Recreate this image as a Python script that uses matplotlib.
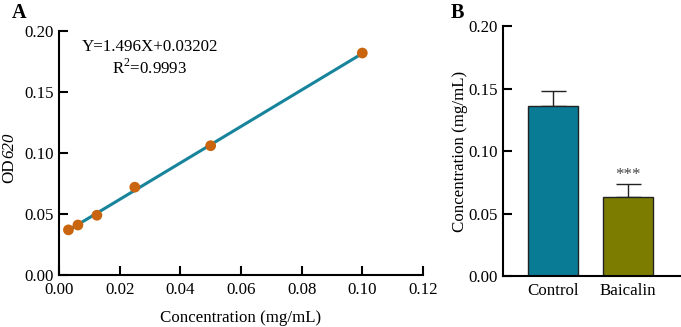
import numpy as np
import matplotlib.pyplot as plt

plt.rcParams['font.family'] = ['Liberation Serif', 'DejaVu Serif']
plt.rcParams['mathtext.fontset'] = 'custom'
plt.rcParams['mathtext.rm'] = 'Liberation Serif'

# standard curve data (panel A)
conc = [0.003125, 0.00625, 0.0125, 0.025, 0.05, 0.1]
od620 = [0.037, 0.041, 0.049, 0.072, 0.106, 0.182]
slope, intercept = 1.496, 0.03202

# bar data (panel B)
groups = ['Control', 'Baicalin']
means = [0.136, 0.0634]
errs = [0.012, 0.010]
bar_colors = ['#0a7b95', '#7c7c00']

line_color = '#17849c'
dot_color = '#c8650e'
fs = 12.2

fig = plt.figure(figsize=(6.81, 3.27), dpi=100)
axA = fig.add_axes([0.0866, 0.159, 0.5345, 0.746])
axB = fig.add_axes([0.7386, 0.156, 0.26, 0.764])

for ax in (axA, axB):
    ax.spines['top'].set_visible(False)
    ax.spines['right'].set_visible(False)
    ax.spines['left'].set_linewidth(1.5)
    ax.spines['bottom'].set_linewidth(1.5)
    ax.tick_params(direction='in', length=6.5, width=1.5, labelsize=fs)
    ax.tick_params(axis='y', pad=4)
    ax.tick_params(axis='x', pad=5)

# panel A
xfit = np.array([conc[0], conc[-1]])
axA.plot(xfit, slope * xfit + intercept, color=line_color, lw=2.2, zorder=2)
axA.scatter(conc, od620, s=60, color=dot_color, zorder=3, edgecolors='none')
axA.set_xlim(0, 0.12)
axA.set_ylim(0, 0.20)
axA.set_xticks(np.arange(0, 0.121, 0.02))
axA.set_yticks(np.arange(0, 0.201, 0.05))
axA.xaxis.set_major_formatter(plt.FormatStrFormatter('%.2f'))
axA.yaxis.set_major_formatter(plt.FormatStrFormatter('%.2f'))
axA.set_xlabel('Concentration (mg/mL)', fontsize=fs, labelpad=9)
axA.text(0.030, 0.187, 'Y=1.496X+0.03202', ha='center', va='center', fontsize=fs)
axA.text(0.030, 0.170, 'R$^2$=0.9993', ha='center', va='center', fontsize=fs)

# y label "OD620" with italic digits
t_od = fig.text(9 / 681, 1 - 183 / 327, 'OD', rotation=90, ha='center', va='bottom',
                fontsize=fs)
fig.texts.append(plt.matplotlib.text.Annotation(
    '620', xy=(0.5, 1.0), xycoords=t_od, rotation=90, ha='center', va='bottom',
    fontsize=fs, style='italic'))
fig.texts[-1].set_figure(fig)

# panel B
x = np.arange(len(groups))
axB.bar(x, means, width=0.667, color=bar_colors, edgecolor='#222222', linewidth=1, zorder=2)
axB.errorbar(x, means, yerr=[[0, 0], errs], fmt='none', ecolor='#222222',
             elinewidth=1, capsize=9, capthick=1, zorder=1)
axB.text(x[1], means[1] + errs[1] + 0.0075, '***', ha='center', va='center',
         fontsize=fs, color='#444444')
axB.set_xlim(-0.667, 1.69)
axB.set_ylim(0, 0.20)
axB.set_yticks(np.arange(0, 0.201, 0.05))
axB.yaxis.set_major_formatter(plt.FormatStrFormatter('%.2f'))
axB.set_xticks(x)
axB.set_xticklabels(groups)
axB.tick_params(axis='x', length=0, pad=5)
axB.set_ylabel('Concentration (mg/mL)', fontsize=fs, labelpad=0)

fig.text(12 / 681, 1 - 13 / 327, 'A', fontsize=14.5, fontweight='bold', va='center', ha='left')
fig.text(451 / 681, 1 - 13 / 327, 'B', fontsize=14.5, fontweight='bold', va='center', ha='left')

fig.savefig('out.png', dpi=100)
